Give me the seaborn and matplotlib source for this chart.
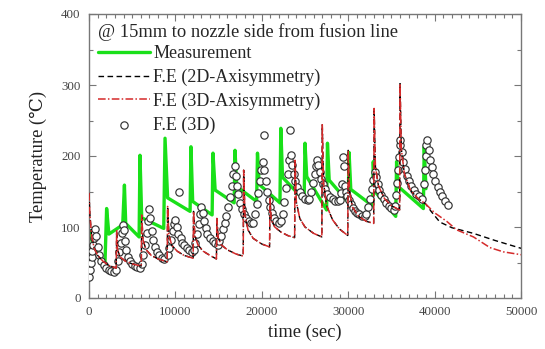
import matplotlib
matplotlib.use("Agg")
import matplotlib.pyplot as plt
from matplotlib.ticker import MultipleLocator
import seaborn as sns
import pandas as pd

# ---- measured temperature history (thermocouple) ----
meas_t = [0, 600, 1850, 2040, 2300, 3900, 4100, 4250, 5800, 5900, 6100, 8650,
          8800, 9100, 11700, 11800, 12000, 14250, 14350, 14600, 16800, 16900,
          17100, 19400, 19500, 19700, 22100, 22200, 22400, 24900, 25000, 25200,
          27500, 27600, 27800, 30000, 30100, 30300, 32800, 32900, 33100, 35500,
          35600, 35800, 38700, 38800, 39000]
meas_T = [95, 70, 49, 126, 90, 103, 159, 105, 86, 201, 113, 98,
          225, 141, 122, 213, 136, 117, 204, 152, 134, 208,
          157, 136, 204, 160, 134, 239, 170, 138, 218, 171,
          124, 218, 166, 135, 205, 153, 130, 192, 150, 115,
          192, 157, 126, 213, 154]

# ---- axisymmetric FE results during the welding passes (both models) ----
axi_t = [0, 100, 300, 600, 1000, 1600, 2300, 3150,
         3200, 3300, 3600, 4200, 5000, 6050,
         6100, 6250, 6600, 7200, 8000, 9050,
         9100, 9250, 9600, 10200, 11000, 12050,
         12100, 12250, 12600, 13200, 14000, 14750,
         14800, 14950, 15300, 16000, 17000, 17850,
         17900, 18050, 18400, 19000, 20000, 20900,
         20950, 21100, 21500, 22200, 23000, 23800,
         23850, 24000, 24400, 25000, 26000, 26950,
         27000, 27150, 27500, 28200, 29000, 29950,
         30000, 30150, 30500, 31200, 32100, 32950,
         33000, 33150, 33500, 34200, 35000, 35950,
         36000, 36150, 36500, 37200, 38000, 39000]
axi_T = [148, 118, 88, 70, 60, 52, 46, 42,
         95, 68, 58, 52, 48, 45,
         117, 82, 68, 60, 55, 51,
         129, 88, 74, 66, 60, 56,
         122, 88, 75, 66, 60, 55,
         112, 85, 75, 68, 62, 59,
         180, 118, 96, 84, 76, 72,
         140, 110, 100, 93, 88, 85,
         194, 135, 112, 100, 91, 86,
         244, 162, 130, 110, 97, 88,
         208, 150, 128, 115, 108, 105,
         267, 185, 158, 140, 130, 124,
         302, 210, 175, 152, 141, 132]

# ---- cooling after the last pass ----
cool2d_t = [39600, 40600, 42000, 44500, 47000, 50000]
cool2d_T = [122, 107, 99, 91, 81, 70]
cool3d_t = [40000, 41400, 42550, 44500, 46400, 47950, 50000]
cool3d_T = [120, 108, 96, 86, 71, 65, 61]

# ---- full 3D FE model ----
fe3d_t = [0, 100, 200, 300, 400, 500, 600, 700, 800, 1000, 1200, 1400, 1700, 2000, 2300, 2600, 2900,
          3100, 3300, 3500, 3650, 3800, 3900, 4000, 4150, 4300, 4500, 4750, 5000, 5300, 5600, 5900,
          6100, 6300, 6500, 6700, 6850, 7000, 7100, 7250, 7400, 7600, 7850, 8100, 8400, 8700,
          9100, 9300, 9500, 9700, 9850, 10000, 10150, 10300, 10450, 10600, 10800, 11000, 11300, 11600, 11900,
          12100, 12300, 12500, 12700, 12850, 13000, 13150, 13300, 13500, 13700, 14000, 14300, 14600, 14900,
          15100, 15300, 15500, 15700, 15900, 16100, 16300, 16500, 16700, 16850, 17000, 17150, 17300, 17500,
          17700, 17900, 18200, 18500, 18800,
          19000, 19200, 19400, 19600, 19800, 19950, 20100, 20200, 20300, 20450, 20600, 20800, 21000, 21200,
          21450, 21700, 22000,
          22200, 22400, 22600, 22800, 23000, 23150, 23250, 23350, 23500, 23700, 23900, 24100, 24400, 24700,
          25000, 25300,
          25500, 25700, 25900, 26100, 26250, 26400, 26550, 26700, 26900, 27100, 27350, 27600, 27900, 28200,
          28500, 28800,
          29000, 29150, 29300, 29400, 29480, 29600, 29750, 29900, 30100, 30300, 30500, 30750, 31000, 31300,
          31600, 31900,
          32100, 32300, 32500, 32700, 32900, 33050, 33200, 33400, 33600, 33850, 34100, 34400, 34700, 35000,
          35300,
          35450, 35550, 35650, 35750, 35850, 35950, 36050, 36200, 36350, 36550, 36800, 37050, 37300, 37600,
          37900, 38200, 38500,
          38750, 38850, 38950, 39050, 39150, 39300, 39450, 39650, 39850, 40100, 40350, 40600, 40900, 41200,
          41600]
fe3d_T = [30, 40, 50, 58, 66, 75, 85, 97, 88, 72, 60, 52, 46, 42, 40, 38, 37,
          40, 52, 65, 78, 92, 103, 96, 80, 68, 58, 52, 48, 45, 43, 42,
          48, 60, 75, 92, 108, 125, 112, 95, 82, 72, 65, 60, 57, 55,
          60, 70, 82, 94, 104, 110, 100, 90, 150, 84, 78, 74, 70, 67, 65,
          68, 78, 90, 104, 118, 128, 120, 108, 98, 90, 84, 80, 77, 75,
          80, 88, 97, 106, 116, 128, 142, 158, 175, 186, 172, 158, 146, 134,
          125, 118, 112, 108, 105,
          106, 118, 132, 148, 165, 180, 192, 229, 180, 165, 150, 138, 128, 120,
          113, 108, 105,
          108, 118, 135, 155, 175, 195, 236, 201, 188, 175, 165, 157, 150, 144,
          140, 138,
          140, 150, 162, 175, 186, 194, 188, 178, 168, 160, 153, 147, 142, 139,
          137, 136,
          138, 148, 160, 199, 186, 158, 150, 144, 138, 132, 127, 123, 120, 118,
          116, 115,
          118, 128, 140, 153, 166, 177, 170, 160, 152, 145, 139, 134, 130, 127,
          124,
          130, 145, 162, 180, 198, 215, 222, 205, 192, 182, 172, 165, 158, 152,
          147, 143, 140,
          160, 180, 200, 215, 222, 208, 195, 184, 175, 165, 157, 150, 143, 137,
          131]

legend_title = "@ 15mm to nozzle side from fusion line"
labels = ["Measurement", "F.E (2D-Axisymmetry)", "F.E (3D-Axisymmetry)", "F.E (3D)"]

meas = pd.DataFrame({"t": meas_t, "T": meas_T})
fe2d = pd.DataFrame({"t": axi_t + cool2d_t, "T": axi_T + cool2d_T})
fe3a = pd.DataFrame({"t": axi_t + cool3d_t, "T": axi_T + cool3d_T})
fe3d = pd.DataFrame({"t": fe3d_t, "T": fe3d_T})

sns.set_theme(style="ticks")
plt.rcParams["font.family"] = ["Liberation Serif", "DejaVu Serif", "DejaVu Sans"]
plt.rcParams["mathtext.fontset"] = "stix"

W, H = 545, 349
fig = plt.figure(figsize=(W / 100, H / 100), dpi=100)
ax = fig.add_axes([89 / W, 1 - 298 / H, 432 / W, 284 / H])

sns.lineplot(data=meas, x="t", y="T", ax=ax, color="#19e019", lw=2.4,
             estimator=None, sort=False, label=labels[0], zorder=2)
sns.scatterplot(data=fe3d, x="t", y="T", ax=ax, s=28, marker="o",
                facecolor="white", edgecolor="#333333", linewidth=0.85,
                label=labels[3], zorder=3)
sns.lineplot(data=fe2d, x="t", y="T", ax=ax, color="black", lw=1.0,
             estimator=None, sort=False, label=labels[1], zorder=4,
             linestyle=(0, (4, 2.5)))
sns.lineplot(data=fe3a, x="t", y="T", ax=ax, color="#d42a2a", lw=1.1,
             estimator=None, sort=False, label=labels[2], zorder=5,
             linestyle=(0, (5, 1.5, 1, 1.5)))

ax.set_xlim(0, 50000)
ax.set_ylim(0, 400)
ax.xaxis.set_major_locator(MultipleLocator(10000))
ax.xaxis.set_minor_locator(MultipleLocator(1000))
ax.yaxis.set_major_locator(MultipleLocator(100))
ax.yaxis.set_minor_locator(MultipleLocator(50))
ax.tick_params(which="both", direction="in", top=True, right=True,
               colors="#777777", labelcolor="#444444", labelsize=9.3, width=0.8)
ax.tick_params(which="major", length=5, pad=6)
ax.tick_params(which="minor", length=3)
for sp in ax.spines.values():
    sp.set_color("#777777")
    sp.set_linewidth(1.0)

ax.set_xlabel("time (sec)", fontsize=13.3, color="#222222", labelpad=4)
ax.set_ylabel("Temperature (\u2103)", fontsize=13.3, color="#222222", labelpad=10)

handles, labs = ax.get_legend_handles_labels()
order = [labs.index(l) for l in labels]
leg = ax.legend([handles[i] for i in order], labels, title=legend_title,
                loc="upper left", bbox_to_anchor=(0.0, 1.0), frameon=False,
                fontsize=13, title_fontsize=13.3, handlelength=2.9,
                handletextpad=0.15, labelspacing=0.36, borderaxespad=0.3,
                borderpad=0.2, alignment="left")
leg._legend_box.align = "left"
leg._legend_box.sep = 3

fig.savefig("out.png", dpi=100)
